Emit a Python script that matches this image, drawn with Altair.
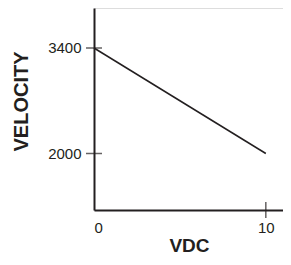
import altair as alt
import pandas as pd

# data
vdc = [0, 10]
velocity = [3400, 2000]
y_tick_values = [3400, 2000]
x_tick_values = [0, 10]
x_tick_marks = [10]

X_DOMAIN = [0, 11.0]
Y_DOMAIN = [1250.2, 3930.8]
INK = "#231f20"
FONT = "Liberation Sans"

line_df = pd.DataFrame({"VDC": vdc, "VELOCITY": velocity})
ytick_df = pd.DataFrame({"VDC": [0] * len(y_tick_values), "VELOCITY": y_tick_values})
xtick_df = pd.DataFrame({"VDC": x_tick_marks, "VELOCITY": [Y_DOMAIN[0]] * len(x_tick_marks)})

xscale = alt.Scale(domain=X_DOMAIN, nice=False, zero=False)
yscale = alt.Scale(domain=Y_DOMAIN, nice=False, zero=False)

xaxis = alt.Axis(
    values=x_tick_values, format="d", ticks=False, grid=False, domainColor=INK, domainWidth=2,
    labelColor=INK, labelFont=FONT, labelFontSize=15, labelPadding=10,
    title="VDC", titleFont=FONT, titleFontSize=19, titleFontWeight="bold", titleColor=INK,
    titleX=95, titleY=41, titleAlign="center", titleBaseline="alphabetic",
)
yaxis = alt.Axis(
    values=y_tick_values, format="d", ticks=False, grid=False, domainColor=INK, domainWidth=2,
    labelColor=INK, labelFont=FONT, labelFontSize=15, labelPadding=13,
    title="VELOCITY", titleFont=FONT, titleFontSize=20, titleFontWeight="bold", titleColor=INK,
    titleX=-67, titleY=93, titleAlign="center", titleBaseline="alphabetic", titleAngle=-90,
)

line = alt.Chart(line_df).mark_line(color=INK, strokeWidth=1.5).encode(
    x=alt.X("VDC:Q", scale=xscale, axis=xaxis),
    y=alt.Y("VELOCITY:Q", scale=yscale, axis=yaxis),
)
yticks = alt.Chart(ytick_df).mark_tick(color=INK, orient="horizontal", size=16, thickness=1.5).encode(
    x=alt.X("VDC:Q", scale=xscale),
    y=alt.Y("VELOCITY:Q", scale=yscale),
)
xticks = alt.Chart(xtick_df).mark_tick(color=INK, orient="vertical", size=16, thickness=1.5).encode(
    x=alt.X("VDC:Q", scale=xscale),
    y=alt.Y("VELOCITY:Q", scale=yscale),
)

chart = alt.layer(line, yticks, xticks).properties(
    width=189, height=202,
    autosize=alt.AutoSizeParams(type="none"),
    padding={"left": 86, "top": 0, "right": 0, "bottom": 46},
).configure_view(stroke=None).configure(background="white")

chart.save("out.html", embed_options={"renderer": "svg", "actions": False})
